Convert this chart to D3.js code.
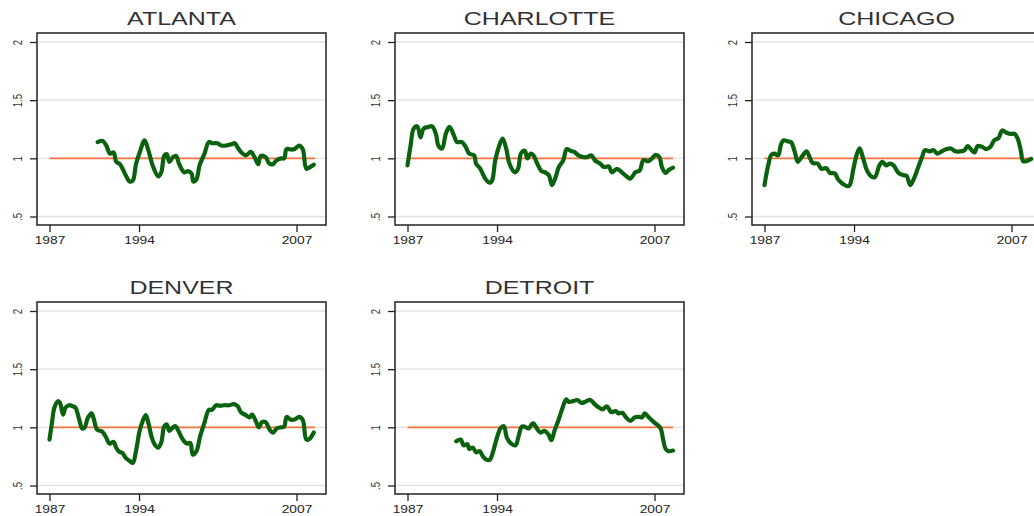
<!DOCTYPE html>
<html>
<head>
<meta charset="utf-8">
<script src="https://cdn.jsdelivr.net/npm/d3@7"></script>
<style>
  body { margin: 0; background: #fff; }
  svg { display: block; font-family: "Liberation Sans", Arial, sans-serif; }
</style>
</head>
<body>
<svg id="chart" width="1034" height="516"></svg>
<script>
// [year, ratio]
const atlanta = [
  [1990.9,1.14],[1991.3,1.15],[1991.6,1.11],[1991.9,1.04],[1992.2,1.05],[1992.4,0.97],[1992.7,0.95],
  [1993.1,0.87],[1993.5,0.80],[1993.75,0.81],[1994.0,0.95],[1994.3,1.05],[1994.7,1.155],[1995.0,1.07],
  [1995.4,0.925],[1995.8,0.845],[1996.05,0.88],[1996.3,1.025],[1996.5,1.035],[1996.7,0.97],[1997.0,1.01],
  [1997.25,1.02],[1997.5,0.95],[1997.9,0.88],[1998.2,0.89],[1998.5,0.87],[1998.65,0.80],[1998.9,0.82],
  [1999.15,0.94],[1999.55,1.04],[1999.9,1.14],[2000.2,1.13],[2000.6,1.13],[2000.9,1.11],[2001.3,1.11],
  [2001.7,1.12],[2002.0,1.13],[2002.2,1.10],[2002.5,1.055],[2002.9,1.025],[2003.3,1.055],[2003.6,1.01],
  [2003.9,0.95],[2004.1,1.02],[2004.5,1.01],[2004.8,0.955],[2005.1,0.95],[2005.35,0.98],[2005.75,1.0],
  [2006.0,1.0],[2006.2,1.08],[2006.6,1.075],[2006.85,1.08],[2007.2,1.11],[2007.5,1.08],[2007.8,0.91],
  [2008.1,0.925],[2008.4,0.945]
];
const charlotte = [
  [1987.0,0.94],[1987.25,1.11],[1987.5,1.255],[1987.8,1.275],[1988.05,1.18],[1988.3,1.255],[1988.7,1.27],
  [1989.0,1.275],[1989.3,1.21],[1989.5,1.11],[1989.8,1.085],[1990.1,1.21],[1990.4,1.27],[1990.75,1.20],
  [1991.0,1.14],[1991.4,1.14],[1991.7,1.10],[1992.0,1.04],[1992.4,1.025],[1992.55,0.955],[1992.9,0.91],
  [1993.3,0.825],[1993.65,0.79],[1993.85,0.81],[1994.1,0.98],[1994.4,1.10],[1994.7,1.17],[1995.0,1.08],
  [1995.25,0.955],[1995.7,0.88],[1995.95,0.91],[1996.2,1.045],[1996.5,1.065],[1996.7,1.0],[1996.95,1.04],
  [1997.2,1.025],[1997.5,0.955],[1997.85,0.89],[1998.15,0.88],[1998.45,0.855],[1998.7,0.77],[1999.0,0.84],
  [1999.25,0.925],[1999.6,0.98],[1999.9,1.08],[2000.2,1.065],[2000.5,1.055],[2000.85,1.025],[2001.25,1.01],
  [2001.5,1.01],[2001.9,1.025],[2002.2,0.98],[2002.6,0.955],[2002.9,0.925],[2003.3,0.93],[2003.55,0.88],
  [2003.95,0.91],[2004.4,0.875],[2004.8,0.84],[2005.05,0.825],[2005.45,0.88],[2005.8,0.895],[2006.1,0.985],
  [2006.5,0.975],[2006.8,1.0],[2007.1,1.03],[2007.4,1.01],[2007.6,0.925],[2007.9,0.875],[2008.15,0.90],
  [2008.5,0.92]
];
const chicago = [
  [1987.0,0.77],[1987.3,0.94],[1987.55,1.03],[1987.8,1.04],[1988.1,1.025],[1988.35,1.125],[1988.55,1.155],
  [1988.9,1.145],[1989.15,1.14],[1989.45,1.055],[1989.7,0.97],[1990.0,1.01],[1990.4,1.06],[1990.65,1.01],
  [1990.9,0.96],[1991.3,0.955],[1991.6,0.91],[1992.0,0.915],[1992.3,0.875],[1992.7,0.87],[1992.95,0.82],
  [1993.35,0.78],[1993.7,0.76],[1993.9,0.77],[1994.2,0.91],[1994.45,1.025],[1994.7,1.085],[1995.0,0.995],
  [1995.3,0.895],[1995.7,0.84],[1995.95,0.84],[1996.3,0.94],[1996.55,0.97],[1996.85,0.94],[1997.15,0.955],
  [1997.45,0.94],[1997.85,0.875],[1998.25,0.855],[1998.5,0.85],[1998.8,0.77],[1999.1,0.825],[1999.4,0.91],
  [1999.75,1.01],[2000.0,1.07],[2000.35,1.06],[2000.7,1.07],[2001.0,1.04],[2001.35,1.06],[2001.75,1.08],
  [2002.1,1.085],[2002.45,1.06],[2002.85,1.06],[2003.2,1.07],[2003.45,1.105],[2003.7,1.08],[2004.0,1.05],
  [2004.25,1.105],[2004.6,1.10],[2004.95,1.08],[2005.3,1.10],[2005.6,1.155],[2005.95,1.175],[2006.25,1.24],
  [2006.6,1.22],[2006.9,1.21],[2007.25,1.21],[2007.5,1.17],[2007.75,1.07],[2007.95,0.975],[2008.3,0.98],
  [2008.6,0.995]
];
const denver = [
  [1987.0,0.895],[1987.2,1.04],[1987.4,1.17],[1987.7,1.225],[1987.85,1.21],[1988.1,1.11],[1988.3,1.17],
  [1988.6,1.19],[1988.9,1.18],[1989.1,1.17],[1989.4,1.07],[1989.65,0.99],[1989.85,1.0],[1990.1,1.08],
  [1990.4,1.12],[1990.55,1.085],[1990.85,0.98],[1991.1,0.97],[1991.3,0.96],[1991.6,0.91],[1991.85,0.86],
  [1992.2,0.875],[1992.4,0.825],[1992.65,0.79],[1992.9,0.78],[1993.15,0.74],[1993.5,0.71],[1993.75,0.695],
  [1994.0,0.795],[1994.3,0.97],[1994.55,1.055],[1994.8,1.105],[1995.0,1.04],[1995.25,0.925],[1995.5,0.855],
  [1995.8,0.825],[1996.05,0.87],[1996.3,1.01],[1996.5,1.025],[1996.7,0.97],[1997.0,1.0],[1997.2,1.01],
  [1997.5,0.955],[1997.8,0.895],[1998.1,0.86],[1998.4,0.865],[1998.6,0.765],[1998.9,0.795],[1999.2,0.925],
  [1999.55,1.04],[1999.9,1.15],[2000.15,1.15],[2000.5,1.19],[2000.8,1.185],[2001.15,1.19],[2001.55,1.19],
  [2001.95,1.20],[2002.25,1.18],[2002.5,1.13],[2002.9,1.105],[2003.2,1.085],[2003.4,1.11],[2003.7,1.055],
  [2003.95,1.0],[2004.2,1.045],[2004.5,1.045],[2004.8,0.985],[2005.1,0.955],[2005.4,0.99],[2005.75,1.0],
  [2006.0,1.005],[2006.2,1.09],[2006.55,1.065],[2006.9,1.07],[2007.2,1.09],[2007.5,1.065],[2007.8,0.895],
  [2008.05,0.90],[2008.4,0.955]
];
const detroit = [
  [1990.95,0.88],[1991.3,0.895],[1991.55,0.845],[1991.85,0.855],[1992.0,0.815],[1992.3,0.825],[1992.55,0.785],
  [1992.85,0.795],[1993.1,0.75],[1993.35,0.725],[1993.65,0.72],[1993.9,0.78],[1994.2,0.895],[1994.55,0.995],
  [1994.8,1.01],[1995.05,0.91],[1995.4,0.86],[1995.75,0.845],[1996.0,0.925],[1996.25,1.005],[1996.5,1.005],
  [1996.8,0.99],[1997.05,1.025],[1997.2,1.035],[1997.5,0.985],[1997.75,0.955],[1998.1,0.97],[1998.4,0.94],
  [1998.65,0.89],[1998.9,0.97],[1999.2,1.055],[1999.5,1.15],[1999.85,1.24],[2000.05,1.22],[2000.4,1.225],
  [2000.75,1.235],[2001.1,1.21],[2001.4,1.22],[2001.8,1.235],[2002.15,1.20],[2002.5,1.17],[2002.8,1.155],
  [2003.15,1.18],[2003.5,1.13],[2003.85,1.14],[2004.1,1.12],[2004.4,1.125],[2004.7,1.085],[2005.05,1.055],
  [2005.4,1.085],[2005.75,1.09],[2006.0,1.085],[2006.2,1.12],[2006.55,1.085],[2006.95,1.045],[2007.3,1.015],
  [2007.5,0.99],[2007.7,0.895],[2007.9,0.815],[2008.15,0.795],[2008.5,0.80]
];

const cities = ["ATLANTA", "CHARLOTTE", "CHICAGO", "DENVER", "DETROIT"];
const series = [atlanta, charlotte, chicago, denver, detroit];
const refLine = [[1987, 1], [2008.5, 1]];

const yTicks = [0.5, 1, 1.5, 2];
const yTickLabels = [".5", "1", "1.5", "2"];
const xTicks = [1987, 1994.25, 2007];
const xTickLabels = ["1987", "1994", "2007"];

const svg = d3.select("#chart");
svg.append("rect").attr("width", 1034).attr("height", 516).attr("fill", "#fff");

const colX = [37, 395, 752];
const rowY = [33, 302];
const pw = 289, ph = 192;
const stretch = 1.43; // the original is squashed sideways

const x = d3.scaleLinear().domain([1987, 2007]).range([12.5, 259.5]);
const y = d3.scaleLinear().domain([0.5, 2]).range([ph - 8.5, 9]);

const line = d3.line()
  .x(d => x(d[0]))
  .y(d => y(d[1]));
const smooth = d3.line()
  .curve(d3.curveCatmullRom.alpha(0.5))
  .x(d => x(d[0]))
  .y(d => y(d[1]));

cities.forEach((name, i) => {
  const g = svg.append("g")
    .attr("transform", `translate(${colX[i % 3]},${rowY[Math.floor(i / 3)]})`);

  // grid
  g.selectAll(".grid")
    .data(yTicks)
    .enter()
    .append("line")
    .attr("x1", 0).attr("x2", pw)
    .attr("y1", d => y(d)).attr("y2", d => y(d))
    .attr("stroke", "#e2e2e2")
    .attr("stroke-width", 1.4);

  // reference line at 1
  g.append("path")
    .attr("d", line(refLine))
    .attr("fill", "none")
    .attr("stroke", "#f4733f")
    .attr("stroke-width", 1.7);

  g.append("path")
    .attr("d", smooth(series[i]))
    .attr("fill", "none")
    .attr("stroke", "#0a620e")
    .attr("stroke-width", 4.2)
    .attr("stroke-linejoin", "round")
    .attr("stroke-linecap", "round");

  // frame
  g.append("rect")
    .attr("width", pw).attr("height", ph)
    .attr("fill", "none")
    .attr("stroke", "#222")
    .attr("stroke-width", 1.5);

  // y axis
  const yAxis = g.append("g")
    .call(d3.axisLeft(y).tickValues(yTicks).tickSize(7).tickFormat(""));
  yAxis.select(".domain").remove();
  yAxis.selectAll(".tick line").attr("stroke", "#222").attr("stroke-width", 1.3);
  yAxis.selectAll(".tick")
    .append("text")
    .attr("transform", `translate(-15,0) scale(${stretch},1) rotate(-90)`)
    .attr("text-anchor", "middle")
    .attr("fill", "#333")
    .attr("font-size", 9.5)
    .text((d, j) => yTickLabels[j]);

  // x axis
  const xAxis = g.append("g")
    .attr("transform", `translate(0,${ph})`)
    .call(d3.axisBottom(x).tickValues(xTicks).tickSize(7).tickFormat(""));
  xAxis.select(".domain").remove();
  xAxis.selectAll(".tick line").attr("stroke", "#222").attr("stroke-width", 1.3);
  xAxis.selectAll(".tick")
    .append("text")
    .attr("transform", "translate(0,19) scale(1.25,1)")
    .attr("text-anchor", "middle")
    .attr("fill", "#222")
    .attr("font-size", 11)
    .text((d, j) => xTickLabels[j]);

  // title
  g.append("text")
    .attr("transform", `translate(${pw / 2},-8) scale(${stretch},1)`)
    .attr("text-anchor", "middle")
    .attr("fill", "#333")
    .attr("font-size", 17.5)
    .text(name);
});
</script>
</body>
</html>
